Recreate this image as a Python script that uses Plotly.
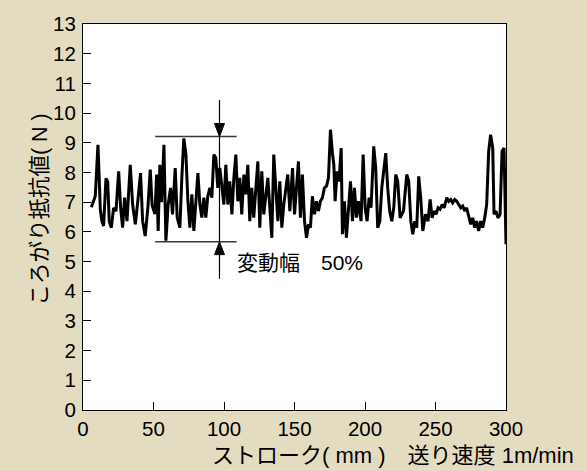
import plotly.graph_objects as go

# Rolling resistance trace along the stroke (feed speed 1 m/min)
stroke_mm = [
    5.9, 7.3, 8.7, 10.6, 12.3, 13.4, 14.6, 16.3, 17.5, 18.6, 20.1, 21.7, 23.4, 25.3,
    26.7, 28.1, 29.5, 31.2, 33.5, 35.2, 37.1, 39.0, 40.8, 42.3, 44.1, 46.0, 47.7,
    49.0, 51.0, 52.2, 53.3, 54.5, 55.7, 57.4, 58.8, 60.4, 62.1, 63.5, 65.4, 66.8,
    68.7, 70.1, 71.5, 73.0, 74.4, 75.8, 77.2, 78.6, 80.0, 81.5, 82.9, 84.3, 85.7,
    87.1, 88.5, 90.0, 91.4, 92.8, 94.2, 95.6, 97.0,
    98.5, 99.9, 101.3, 102.7, 104.1, 105.6, 107.0, 108.4, 109.8, 111.2, 112.6,
    114.1, 115.5, 116.9, 118.3, 119.7, 121.1, 122.6, 124.0, 125.4, 126.8, 128.2,
    129.7, 131.1, 132.5, 133.9, 135.3, 136.7, 138.2, 139.6, 141.0, 142.4, 143.8, 145.2,
    146.7, 147.4, 148.6, 150.0, 151.4, 152.8, 154.2, 155.6, 157.1, 158.5, 159.9,
    161.3, 162.7, 164.2, 165.6, 167.0, 168.4, 169.8, 171.2, 172.7, 174.1, 175.5,
    176.9, 177.9, 178.8, 180.2, 181.6, 183.1, 184.0, 185.4, 186.8, 188.2, 189.7,
    191.1, 192.5, 193.9, 195.3,
    197.2, 198.7, 200.1, 201.5, 202.9, 204.3, 206.2, 207.6, 209.0, 210.5, 211.9,
    213.3, 214.7, 216.1, 217.5, 219.0, 220.4, 221.8, 223.2,
    224.9, 227.3, 229.6, 231.0, 232.5, 233.9, 235.3, 236.7, 238.1, 239.5, 241.0,
    242.9, 244.7, 246.2, 247.6, 249.0, 250.4, 251.8, 253.2, 254.7, 256.1, 258.0,
    259.4, 260.8, 262.2, 263.6, 265.1, 266.5, 267.9, 269.3, 270.7, 272.1, 273.6,
    275.0, 276.4, 277.8, 279.2, 280.6, 282.1, 283.5, 284.9, 286.3, 287.7, 289.1,
    290.6, 291.5, 292.9, 294.3, 295.8, 297.2, 298.6, 299.5, 300.0,
]
force_n = [
    6.83, 7.03, 7.2, 8.93, 6.75, 6.36, 6.2, 7.8, 7.7, 6.36, 6.14, 6.81, 6.7, 8.04,
    6.81, 6.14, 7.15, 6.36, 8.26, 6.92, 6.25, 7.09, 7.98, 6.36, 5.86, 6.81, 8.1,
    6.9, 6.6, 7.93, 6.03, 8.26, 7.0, 8.93, 5.7, 6.92, 7.48, 6.59, 8.15, 6.48,
    6.14, 7.82, 9.15, 8.6, 7.03, 6.14, 7.26, 6.03, 7.03, 7.98, 6.92, 6.48, 7.15,
    6.48, 7.2, 7.48, 7.15, 8.6, 8.49, 7.48, 8.15,
    7.48, 6.92, 8.26, 6.92, 7.7, 6.59, 7.82, 8.6, 7.03, 7.82, 6.59,
    7.93, 7.26, 8.26, 6.36, 7.48, 6.48, 7.48, 8.37, 6.14, 8.04, 6.59,
    7.26, 7.82, 6.81, 5.8, 8.6, 7.48, 6.36, 7.7, 6.14, 6.92, 7.37, 7.93,
    6.7, 7.37, 8.15, 6.59, 7.59, 8.37, 6.48, 7.93, 6.36, 5.8, 6.25,
    6.14, 7.2, 6.59, 7.03, 6.7, 7.03, 7.15, 7.48, 7.54, 7.82, 9.44,
    8.65, 8.26, 7.03, 8.04, 7.7, 8.82, 5.92, 7.03, 5.8, 6.59, 7.7,
    6.36, 7.48, 6.48, 7.03,
    6.36, 8.6, 6.81, 6.36, 7.15, 6.81, 8.88, 8.15, 6.14, 6.36, 7.48,
    8.15, 8.65, 7.48, 6.7, 6.36, 6.81, 7.93, 7.7,
    6.47, 6.7, 7.93, 7.7, 6.36, 5.92, 6.36, 6.14, 7.87, 7.15, 6.03,
    6.59, 6.36, 7.09, 6.47, 6.7, 6.59, 6.81, 6.76, 6.92, 6.81, 7.15,
    7.03, 7.09, 6.98, 7.09, 7.03, 6.92, 6.81, 6.87, 6.7, 6.81, 6.47,
    6.25, 6.47, 6.14, 6.36, 6.03, 6.36, 6.14, 6.47, 6.92, 8.71, 9.27,
    8.82, 6.59, 6.7, 6.47, 6.59, 8.71, 8.82, 6.36, 5.58,
]

x_ticks = [0, 50, 100, 150, 200, 250, 300]
y_ticks = list(range(0, 14))

# Fluctuation band marker
band_x = [51.2, 109.0]
band_top = 9.21
band_bottom = 5.67
arrow_x = 96.8
arrow_y_span = [4.42, 10.44]
band_label = "変動幅　50%"
band_label_pos = [108.0, 4.97]

x_title = "ストローク( mm )　送り速度 1m/min"
y_title = "ころがり抵抗値( N )"

FONT = "Liberation Sans, Arial, Noto Sans CJK JP, sans-serif"
BG = "#E4DCC1"

fig = go.Figure()
fig.add_trace(go.Scatter(
    x=stroke_mm, y=force_n, mode="lines",
    line=dict(color="black", width=3),
    showlegend=False, hoverinfo="skip",
))

shapes = []
for yv in (band_top, band_bottom):
    shapes.append(dict(type="line", xref="x", yref="y",
                       x0=band_x[0], x1=band_x[1], y0=yv, y1=yv,
                       line=dict(color="#3a3a3a", width=1.5)))
shapes.append(dict(type="line", xref="x", yref="y",
                   x0=arrow_x, x1=arrow_x, y0=arrow_y_span[0], y1=arrow_y_span[1],
                   line=dict(color="black", width=1.2)))
# arrowheads: pixel-sized triangles with tips on the band lines
head_w, head_h = 5, 13
shapes.append(dict(type="path", xref="x", yref="y",
                   xsizemode="pixel", ysizemode="pixel",
                   xanchor=arrow_x, yanchor=band_top,
                   path=f"M {-head_w},{head_h} L {head_w},{head_h} L 0,0 Z",
                   fillcolor="black", line=dict(color="black", width=1)))
shapes.append(dict(type="path", xref="x", yref="y",
                   xsizemode="pixel", ysizemode="pixel",
                   xanchor=arrow_x, yanchor=band_bottom,
                   path=f"M {-head_w},{-head_h} L {head_w},{-head_h} L 0,0 Z",
                   fillcolor="black", line=dict(color="black", width=1)))

annotations = [
    dict(x=band_label_pos[0], y=band_label_pos[1], xref="x", yref="y",
         text=band_label, showarrow=False, xanchor="left", yanchor="middle",
         font=dict(size=21, color="black", family=FONT)),
    dict(x=-0.101, y=0.52, xref="paper", yref="paper", text=y_title,
         textangle=-90, showarrow=False, xanchor="center", yanchor="middle",
         font=dict(size=21.5, color="black", family=FONT)),
    dict(x=0.301, y=-0.118, xref="paper", yref="paper", text=x_title,
         showarrow=False, xanchor="left", yanchor="middle",
         font=dict(size=22, color="black", family=FONT)),
]

axis_common = dict(
    showline=True, linecolor="black", linewidth=1, mirror=True,
    ticks="inside", ticklen=8, tickwidth=1, tickcolor="black",
    showgrid=False, zeroline=False,
    tickfont=dict(size=20.5, color="black", family=FONT),
)

fig.update_layout(
    width=587, height=471,
    margin=dict(l=83, r=81, t=22, b=61),
    paper_bgcolor=BG, plot_bgcolor="white",
    xaxis=dict(range=[0, 300], tickvals=x_ticks, **axis_common),
    yaxis=dict(range=[0, 13], tickvals=y_ticks, ticklabelstandoff=2, **axis_common),
    shapes=shapes, annotations=annotations,
)

fig.write_html("out.html")
